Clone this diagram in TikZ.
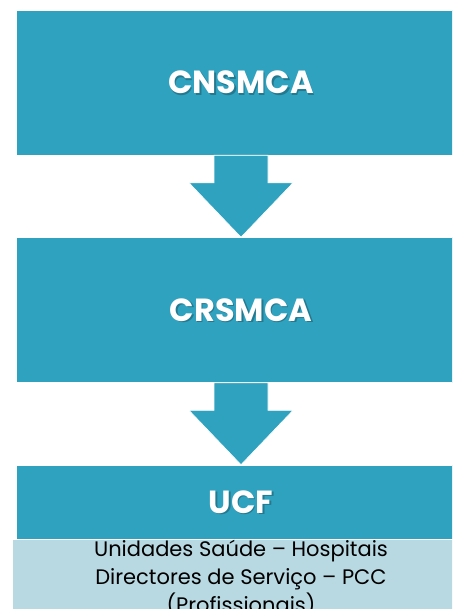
\documentclass[tikz,border=0pt]{standalone}
\usepackage{fontspec}
\setmainfont{Poppins}
\usetikzlibrary{calc}
\definecolor{teal1}{HTML}{2EA2BF}
\definecolor{lightb}{HTML}{B8D8E2}
\definecolor{shad}{HTML}{1E5F70}
\tikzset{
  bigbox/.style={fill=teal1, draw=white, line width=0.6pt, inner sep=0pt, minimum width=450pt},
  boxlabel/.style={text=white, font=\fontsize{32}{36}\selectfont\bfseries},
  shadowlabel/.style={text=shad, opacity=0.6, font=\fontsize{32}{36}\selectfont\bfseries},
  flowarrow/.style={fill=teal1, draw=white, line width=0.6pt},
  subbox/.style={fill=lightb, inner sep=0pt, minimum width=456pt, minimum height=80pt},
  subtext/.style={text=black, align=center, inner sep=0pt, font=\fontsize{21}{28}\selectfont}
}
\begin{document}
\begin{tikzpicture}[x=1pt,y=-1pt]
\useasboundingbox (0,0) rectangle (452,609);
\clip (0,0) rectangle (452,609);
\fill[white] (0,0) rectangle (452,609);
% boxes
\node[bigbox, minimum height=145pt] (b1) at (241,82.5) {};
\node[bigbox, minimum height=145pt] (b2) at (241,310) {};
\node[bigbox, minimum height=74pt] (b3) at (241,502) {};
\node[subbox, anchor=north] (s3) at (241,539.5) {};
% arrows
\foreach \a/\b/\n in {b1/b2/ar1, b2/b3/ar2} {
  \coordinate (\n top) at (\a.south);
  \coordinate (\n tip) at (\b.north);
  \filldraw[flowarrow]
    ($(\n top)+(-27,0)$) -- ($(\n top)+(27,0)$) -- ($(\n top)+(27,27.5)$) --
    ($(\n top)+(52,27.5)$) -- (\n tip) -- ($(\n top)+(-52,27.5)$) --
    ($(\n top)+(-27,27.5)$) -- cycle;
}
% labels
\node[shadowlabel] at ($(b1.center)+(1.5,1.5)$) {CNSMCA};
\node[boxlabel] (t1) at (b1.center) {CNSMCA};
\node[shadowlabel] at ($(b2.center)+(1.5,1.5)$) {CRSMCA};
\node[boxlabel] (t2) at (b2.center) {CRSMCA};
\node[shadowlabel] at ($(b3.center)+(1.5,1.5)$) {UCF};
\node[boxlabel] (t3) at (b3.center) {UCF};
\node[subtext, anchor=north] (st) at (241,540) {Unidades Saúde – Hospitais\\Directores de Serviço – PCC\\(Profissionais)};
\end{tikzpicture}
\end{document}
